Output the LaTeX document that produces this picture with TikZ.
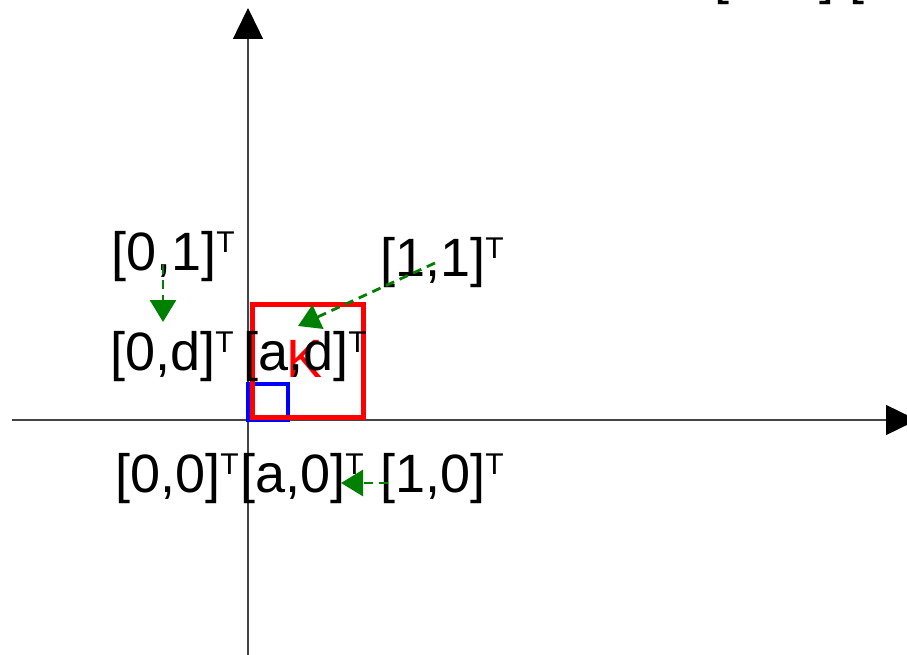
\documentclass[tikz,border=0pt]{standalone}
\usepackage{fontspec}
\setmainfont{Liberation Sans}
\usetikzlibrary{arrows.meta,positioning}
\definecolor{mapgreen}{HTML}{008000}
\definecolor{axisink}{HTML}{444444}
\newcommand{\Tsup}{\raisebox{18pt}{\fontsize{30}{30}\selectfont T}}

\begin{document}
\begin{tikzpicture}[x=1pt,y=-1pt,
  lbl/.style={inner sep=0pt,anchor=base west,font=\fontsize{54}{60}\selectfont},
  axisline/.style={draw=axisink,line width=1.4pt,-{Triangle[length=31pt,width=30pt,black]}},
  mapline/.style={draw=mapgreen,line width=2.8pt,dash pattern=on 9pt off 6pt,
                  -{Triangle[length=22pt,width=26pt]}}]
  \useasboundingbox (0,0) rectangle (907,655);
  \clip (0,0) rectangle (907,655);
  % axes
  \coordinate (ybot) at (248,655);
  \coordinate (ytop) at (248,8);
  \coordinate (xlft) at (12,420);
  \coordinate (xrgt) at (917,420);
  \draw[axisline] (ybot) -- (ytop);
  \draw[axisline] (xlft) -- (xrgt);
  % unit square image
  \draw[blue,line width=4pt] (248,384) rectangle (288,420);
  \draw[red,line width=5pt] (252,304) rectangle (363,417);
  \node[lbl,anchor=base,text=red] (kk) at (305,377) {K};
  % corner labels
  \node[lbl] (p01) at (111,270) {[0,1]\Tsup};
  \node[lbl] (p0d) at (110,370) {[0,d]\Tsup};
  \node[lbl] (pad) at (243,370) {[a,d]\Tsup};
  \node[lbl] (p11) at (380,276) {[1,1]\Tsup};
  \node[lbl] (p00) at (115,492) {[0,0]\Tsup};
  \node[lbl] (pa0) at (240,492) {[a,0]\Tsup};
  \node[lbl] (p10) at (380,492) {[1,0]\Tsup};
  \node[lbl] (pcut) at (714,-6) {[0, d] [0};
  % mapping arrows
  \coordinate (s01) at (163,265);
  \coordinate (t01) at (163,322);
  \coordinate (s11) at (435,263);
  \coordinate (t11) at (298,326);
  \coordinate (s10) at (388,483);
  \coordinate (t10) at (341,483);
  \draw[mapline] (s01) -- (t01);
  \draw[mapline] (s11) -- (t11);
  \draw[mapline] (s10) -- (t10);
\end{tikzpicture}
\end{document}
